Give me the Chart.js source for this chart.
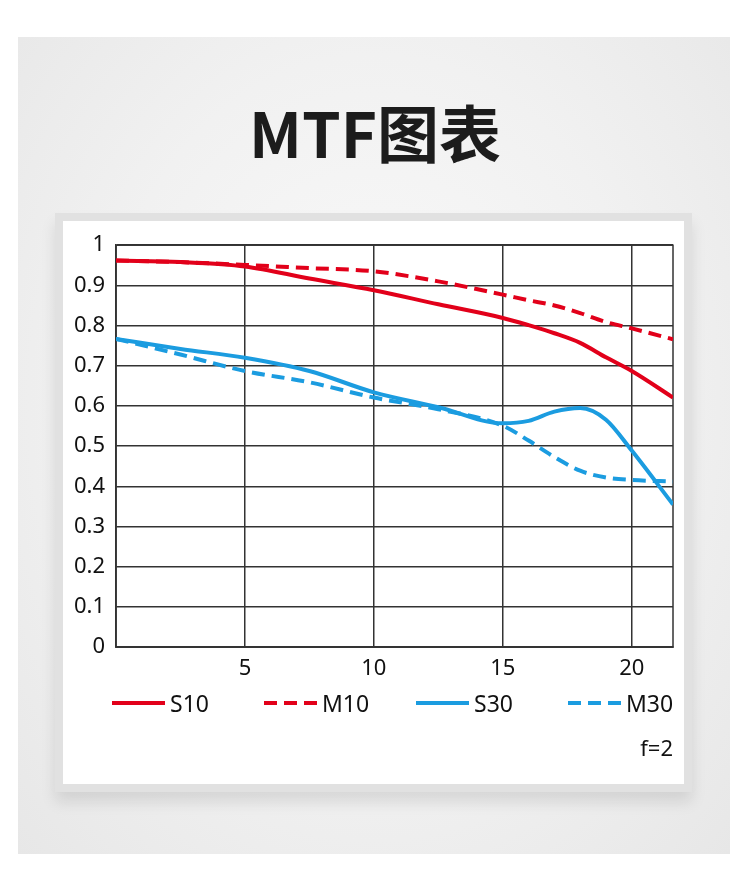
<!DOCTYPE html>
<html lang="zh">
<head>
<meta charset="utf-8">
<title>MTF图表</title>
<script src="https://cdn.jsdelivr.net/npm/chart.js@4.4.1/dist/chart.umd.min.js"></script>
<style>
html, body { margin: 0; padding: 0; background: #fff; }
body { width: 750px; height: 895px; position: relative; overflow: hidden; }
.panel {
    position: absolute; left: 18px; top: 37px; width: 712px; height: 817px;
    background: radial-gradient(ellipse at 50% 45%, #fafafa 0%, #f1f1f1 55%, #e7e7e7 100%);
}
.title {
    position: absolute; left: 0; top: 91px; width: 750px; margin: 0;
    text-align: center; font-family: "Noto Sans CJK SC", sans-serif; font-weight: 700;
    font-size: 62px; line-height: 80px; color: #1c1c1c;
}
.card {
    position: absolute; left: 55px; top: 213px; width: 637px; height: 579px;
    box-sizing: border-box; background: #fff; border: 8px solid #e1e1e1;
    box-shadow: 0 10px 14px rgba(0, 0, 0, 0.10);
}
.wrap { position: absolute; left: 63px; top: 221px; width: 620px; height: 563px; }
#legend {
    position: absolute; left: 112px; top: 688px; height: 30px;
    display: flex; align-items: center;
    font-family: "Noto Sans", sans-serif; font-size: 23px; color: #111;
}
#legend .item { display: flex; align-items: center; width: 152px; }
#legend .swatch { width: 53px; height: 4px; margin-right: 5px; }
</style>
</head>
<body>
<div class="panel"></div>
<h1 class="title">MTF图表</h1>
<div class="card"></div>
<div class="wrap"><canvas id="mtfChart"></canvas></div>
<div id="legend"></div>
<script>
// spatial frequency (lp/mm) sampled along the curves
const freq = [0, 2.5, 5, 7.5, 10, 12.5, 15, 16, 17, 18, 19, 20, 21.6];

// MTF values
const s10 = [0.962, 0.958, 0.947, 0.917, 0.888, 0.853, 0.819, 0.801, 0.781, 0.757, 0.721, 0.687, 0.621];
const m10 = [0.962, 0.958, 0.951, 0.943, 0.935, 0.910, 0.877, 0.863, 0.850, 0.831, 0.809, 0.793, 0.766];
const s30 = [0.767, 0.742, 0.720, 0.687, 0.634, 0.597, 0.557, 0.563, 0.586, 0.595, 0.566, 0.489, 0.355];
const m30 = [0.767, 0.728, 0.687, 0.659, 0.621, 0.592, 0.551, 0.514, 0.473, 0.439, 0.422, 0.416, 0.412];

const xTickLabels = [5, 10, 15, 20];

const red = '#e2001a';
const blue = '#1b9ce0';
const dash = [13, 7];

function toPoints(values) {
    return values.map((v, i) => ({ x: freq[i], y: v }));
}

function lineSet(label, values, color, dashed) {
    return {
        label: label,
        data: toPoints(values),
        borderColor: color,
        backgroundColor: color,
        borderWidth: 4,
        borderDash: dashed ? dash : [],
        pointRadius: 0,
        cubicInterpolationMode: 'monotone',
        fill: false
    };
}

// draw the plot frame (right edge is not a tick)
const framePlugin = {
    id: 'frame',
    beforeDatasetsDraw(chart) {
        const a = chart.chartArea;
        const ctx = chart.ctx;
        ctx.save();
        ctx.strokeStyle = '#333';
        ctx.lineWidth = 1.5;
        ctx.strokeRect(a.left, a.top, a.right - a.left, a.bottom - a.top);
        ctx.restore();
    }
};

// legend as html so the dashed swatches show properly
const htmlLegend = {
    id: 'htmlLegend',
    afterUpdate(chart) {
        const box = document.getElementById('legend');
        box.innerHTML = '';
        chart.data.datasets.forEach(ds => {
            const item = document.createElement('div');
            item.className = 'item';
            const swatch = document.createElement('span');
            swatch.className = 'swatch';
            if (ds.borderDash.length) {
                const on = ds.borderDash[0], off = ds.borderDash[0] + ds.borderDash[1];
                swatch.style.background = 'repeating-linear-gradient(to right, ' + ds.borderColor +
                    ' 0 ' + on + 'px, transparent ' + on + 'px ' + off + 'px)';
            } else {
                swatch.style.background = ds.borderColor;
            }
            const text = document.createElement('span');
            text.textContent = ds.label;
            item.appendChild(swatch);
            item.appendChild(text);
            box.appendChild(item);
        });
    }
};

const mtfConfig = {
    type: 'line',
    data: {
        datasets: [
            lineSet('S10', s10, red, false),
            lineSet('M10', m10, red, true),
            lineSet('S30', s30, blue, false),
            lineSet('M30', m30, blue, true)
        ]
    },
    options: {
        responsive: true,
        maintainAspectRatio: false,
        animation: false,
        layout: { padding: { left: 6, right: 10, top: 21, bottom: 21 } },
        scales: {
            x: {
                type: 'linear',
                min: 0,
                max: 21.6,
                grid: { color: '#333', lineWidth: 1.5, drawTicks: false },
                border: { color: '#333', width: 1.5 },
                ticks: {
                    stepSize: 5,
                    includeBounds: false,
                    padding: 8,
                    color: '#111',
                    font: { family: 'Noto Sans', size: 22 },
                    callback: v => xTickLabels.includes(v) ? String(v) : ''
                }
            },
            y: {
                min: 0,
                max: 1,
                grid: { color: '#333', lineWidth: 1.5, drawTicks: false },
                border: { color: '#333', width: 1.5 },
                ticks: {
                    stepSize: 0.1,
                    padding: 11,
                    color: '#111',
                    font: { family: 'Noto Sans', size: 22 },
                    callback: v => String(Math.round(v * 10) / 10)
                },
                afterFit: scale => { scale.width = 47; }
            }
        },
        plugins: {
            legend: { display: false },
            subtitle: {
                display: true,
                text: 'f=2',
                position: 'bottom',
                align: 'end',
                color: '#111',
                font: { family: 'Noto Sans', size: 22, weight: 'normal' },
                padding: { top: 47, bottom: 0 }
            },
            tooltip: { enabled: false }
        }
    },
    plugins: [framePlugin, htmlLegend]
};

const mtfChart = new Chart(document.getElementById('mtfChart'), mtfConfig);
</script>
</body>
</html>
